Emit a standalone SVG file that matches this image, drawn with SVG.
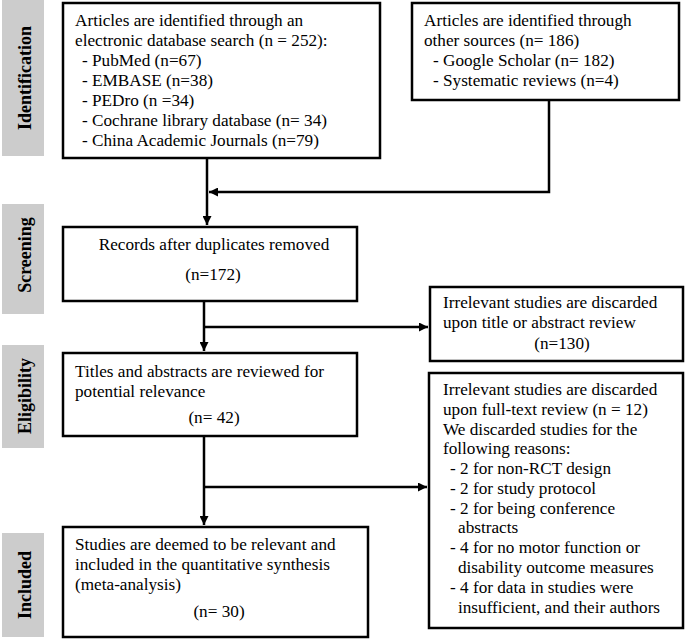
<svg xmlns="http://www.w3.org/2000/svg" width="685" height="639" viewBox="0 0 685 639">
<defs>
<style>
.box{fill:#fff;stroke:#000;stroke-width:2.5}
.side{fill:#cccccc}
.t{font-family:"Liberation Serif","Times New Roman",serif;font-size:17.2px;fill:#000}
.st{font-family:"Liberation Serif","Times New Roman",serif;font-size:18px;font-weight:bold;fill:#000}
.c{text-anchor:middle}
.ln{fill:none;stroke:#000;stroke-width:2.5}
</style>
<marker id="ah" viewBox="0 0 10 10" refX="10" refY="5" markerWidth="3.6" markerHeight="3.6" markerUnits="strokeWidth" orient="auto">
<path d="M0,0 L10,5 L0,10 z" fill="#000"/>
</marker>
</defs>
<rect width="685" height="639" fill="#fff"/>
<g id="phases">
<rect class="side" x="2" y="0" width="42" height="156"/>
<text class="st c" transform="translate(31,78) rotate(-90)">Identification</text>
<rect class="side" x="2" y="204" width="42" height="110"/>
<text class="st c" transform="translate(31,255) rotate(-90)">Screening</text>
<rect class="side" x="2" y="345" width="42" height="103"/>
<text class="st c" transform="translate(31,396) rotate(-90)">Eligibility</text>
<rect class="side" x="2" y="533" width="42" height="104"/>
<text class="st c" transform="translate(31,585) rotate(-90)">Included</text>
</g>
<g id="connectors">
<path class="ln" d="M207,158 V225" marker-end="url(#ah)"/>
<path class="ln" d="M549,100 V192 H209" marker-end="url(#ah)"/>
<path class="ln" d="M204,301 V351" marker-end="url(#ah)"/>
<path class="ln" d="M204,327 H428" marker-end="url(#ah)"/>
<path class="ln" d="M204,436 V525" marker-end="url(#ah)"/>
<path class="ln" d="M204,487 H427" marker-end="url(#ah)"/>
</g>
<g id="db-search">
<rect class="box" x="63" y="3" width="317" height="155"/>
<text class="t" x="75" y="26">Articles are identified through an</text>
<text class="t" x="75" y="46">electronic database search (n = 252):</text>
<text class="t" x="82" y="66">- PubMed (n=67)</text>
<text class="t" x="82" y="86">- EMBASE (n=38)</text>
<text class="t" x="82" y="106">- PEDro (n =34)</text>
<text class="t" x="82" y="126">- Cochrane library database (n= 34)</text>
<text class="t" x="82" y="146">- China Academic Journals (n=79)</text>
</g>
<g id="other-sources">
<rect class="box" x="412" y="3" width="267" height="97"/>
<text class="t" x="424" y="26">Articles are identified through</text>
<text class="t" x="424" y="46">other sources (n= 186)</text>
<text class="t" x="433" y="66">- Google Scholar (n= 182)</text>
<text class="t" x="433" y="86">- Systematic reviews (n=4)</text>
</g>
<g id="dedup">
<rect class="box" x="63" y="227" width="294" height="74"/>
<text class="t c" x="214" y="250">Records after duplicates removed</text>
<text class="t c" x="213" y="280">(n=172)</text>
</g>
<g id="excluded-title">
<rect class="box" x="430" y="287" width="253" height="74"/>
<text class="t" x="443" y="308">Irrelevant studies are discarded</text>
<text class="t" x="443" y="328">upon title or abstract review</text>
<text class="t c" x="562" y="349">(n=130)</text>
</g>
<g id="screened">
<rect class="box" x="63" y="353" width="294" height="83"/>
<text class="t" x="75" y="377">Titles and abstracts are reviewed for</text>
<text class="t" x="75" y="397">potential relevance</text>
<text class="t c" x="214" y="423">(n= 42)</text>
</g>
<g id="excluded-fulltext">
<rect class="box" x="429" y="373" width="254" height="255"/>
<text class="t" x="443" y="395">Irrelevant studies are discarded</text>
<text class="t" x="443" y="415">upon full-text review (n = 12)</text>
<text class="t" x="443" y="435">We discarded studies for the</text>
<text class="t" x="443" y="454">following reasons:</text>
<text class="t" x="450" y="474">- 2 for non-RCT design</text>
<text class="t" x="450" y="494">- 2 for study protocol</text>
<text class="t" x="450" y="514">- 2 for being conference</text>
<text class="t" x="458" y="533">abstracts</text>
<text class="t" x="450" y="553">- 4 for no motor function or</text>
<text class="t" x="458" y="573">disability outcome measures</text>
<text class="t" x="450" y="593">- 4 for data in studies were</text>
<text class="t" x="458" y="613">insufficient, and their authors</text>
</g>
<g id="included">
<rect class="box" x="63" y="527" width="305" height="110"/>
<text class="t" x="75" y="550">Studies are deemed to be relevant and</text>
<text class="t" x="75" y="570">included in the quantitative synthesis</text>
<text class="t" x="75" y="590">(meta-analysis)</text>
<text class="t c" x="219" y="617">(n= 30)</text>
</g>
</svg>
